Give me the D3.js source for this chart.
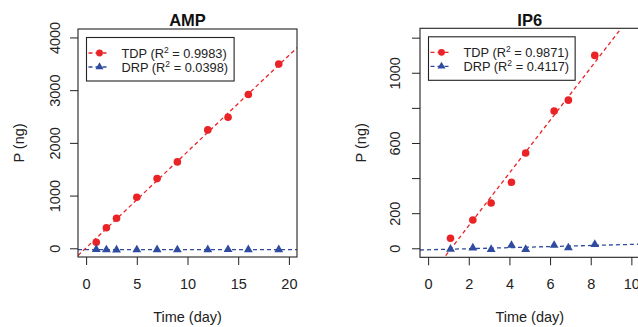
<!DOCTYPE html>
<html>
<head>
<meta charset="utf-8">
<script src="https://cdn.jsdelivr.net/npm/d3@7"></script>
<style>
  body { margin: 0; background: #fff; }
  svg { display: block; font-family: "Liberation Sans", Arial, sans-serif; }
  .tick line { stroke: #222; }
</style>
</head>
<body>
<div id="container"></div>
<script>
'use strict';

// values
const ampDays = [1, 2, 3, 5, 7, 9, 12, 14, 16, 19];
const ampTDP = [114, 391, 570, 968, 1322, 1639, 2246, 2487, 2917, 3494];
const ampDRP = [-22, -28, -30, -28, -26, -28, -26, -24, -26, -27];
const ampR2 = ["0.9983", "0.0398"];
const ampXTicks = [0, 5, 10, 15, 20];
const ampYTicks = [0, 1000, 2000, 3000, 4000];
const ampYLabels = [0, 1000, 2000, 3000, 4000];

const ip6Days = [1.1, 2.2, 3.1, 4.1, 4.8, 6.2, 6.9, 8.2];
const ip6TDP = [57, 161, 258, 376, 543, 782, 844, 1099];
const ip6DRP = [-5, 2, -6, 17, -6, 17, 3, 22];
const ip6R2 = ["0.9871", "0.4117"];
const ip6XTicks = [0, 2, 4, 6, 8, 10];
const ip6YTicks = [0, 200, 400, 600, 800, 1000, 1200];
const ip6YLabels = [0, 200, 600, 1000];

const seriesNames = ["TDP", "DRP"];

const width = 638, height = 327;
const red = "#ea2327", blue = "#2e4b9f";
const tickLen = 8;

const svg = d3.select("#container").append("svg")
  .attr("width", width)
  .attr("height", height);

// least squares, like R's lm() + abline()
function fit(xs, ys) {
  const mx = d3.mean(xs), my = d3.mean(ys);
  let sxy = 0, sxx = 0;
  xs.forEach((x, i) => { sxy += (x - mx) * (ys[i] - my); sxx += (x - mx) ** 2; });
  const b = sxy / sxx;
  return {a: my - b * mx, b: b};
}

// R pads the axis limits by 4%
function pad(lim) {
  const d = (lim[1] - lim[0]) * 0.04;
  return [lim[0] - d, lim[1] + d];
}

function panel(cfg) {
  const box = cfg.box;
  const xScale = d3.scaleLinear().domain(pad(cfg.xlim)).range([box.left, box.right]);
  const yScale = d3.scaleLinear().domain(pad(cfg.ylim)).range([box.bottom, box.top]);

  const g = svg.append("g");

  g.append("clipPath").attr("id", cfg.id + "-clip")
    .append("rect")
    .attr("x", box.left).attr("y", box.top)
    .attr("width", box.right - box.left).attr("height", box.bottom - box.top);

  // axes (ticks only, R style)
  const xAxis = d3.axisBottom(xScale).tickValues(cfg.xTicks).tickSize(tickLen).tickSizeOuter(0).tickFormat(d3.format("d"));
  const gx = g.append("g").attr("transform", `translate(0,${box.bottom})`).call(xAxis);
  gx.select(".domain").remove();
  gx.selectAll("text")
    .attr("y", 32).attr("dy", 0)
    .attr("font-size", 14.5).attr("fill", "#222")
    .attr("font-family", null);

  const yAxis = d3.axisLeft(yScale).tickValues(cfg.yTicks).tickSize(tickLen).tickSizeOuter(0)
    .tickFormat(d => cfg.yLabels.includes(d) ? String(d) : "");
  const gy = g.append("g").attr("transform", `translate(${box.left},0)`).call(yAxis);
  gy.select(".domain").remove();
  gy.selectAll("text")
    .attr("x", 0).attr("y", -cfg.yLabelGap).attr("dy", 0)
    .attr("text-anchor", "middle")
    .attr("transform", "rotate(-90)")
    .attr("font-size", 14.5).attr("fill", "#222")
    .attr("font-family", null);

  // regression lines
  const xd = xScale.domain();
  const lines = [fit(cfg.days, cfg.tdp), fit(cfg.days, cfg.drp)];
  g.append("g").attr("clip-path", `url(#${cfg.id}-clip)`)
    .selectAll("line.fit")
    .data(lines)
    .join("line")
    .attr("class", "fit")
    .attr("x1", xScale(xd[0])).attr("x2", xScale(xd[1]))
    .attr("y1", d => yScale(d.a + d.b * xd[0]))
    .attr("y2", d => yScale(d.a + d.b * xd[1]))
    .attr("stroke", (d, i) => i === 0 ? red : blue)
    .attr("stroke-width", 1.3)
    .attr("stroke-dasharray", "4,3");

  // points
  g.append("g").selectAll("circle")
    .data(cfg.days.map((d, i) => [d, cfg.tdp[i]]))
    .join("circle")
    .attr("cx", d => xScale(d[0]))
    .attr("cy", d => yScale(d[1]))
    .attr("r", 3.8)
    .attr("fill", red);

  const tri = d3.symbol().type(d3.symbolTriangle).size(34);
  g.append("g").selectAll("path")
    .data(cfg.days.map((d, i) => [d, cfg.drp[i]]))
    .join("path")
    .attr("d", tri)
    .attr("transform", d => `translate(${xScale(d[0])},${yScale(d[1])})`)
    .attr("fill", blue);

  // box
  g.append("rect")
    .attr("x", box.left).attr("y", box.top)
    .attr("width", box.right - box.left).attr("height", box.bottom - box.top)
    .attr("fill", "none").attr("stroke", "#222").attr("stroke-width", 1.1);

  // legend
  const lg = g.append("g").attr("transform", `translate(${box.left + 8.5},${box.top + 8.5})`);
  const lbox = lg.append("rect")
    .attr("x", 0).attr("y", 0)
    .attr("height", 43.5)
    .attr("fill", "#fff").attr("stroke", "#222").attr("stroke-width", 1.1);
  const rows = lg.selectAll("g.row")
    .data(seriesNames)
    .join("g")
    .attr("class", "row")
    .attr("transform", (d, i) => `translate(0,${15.5 + i * 14})`);
  rows.append("line")
    .attr("x1", 2).attr("x2", 21)
    .attr("stroke", (d, i) => i === 0 ? red : blue)
    .attr("stroke-width", 1.3)
    .attr("stroke-dasharray", "4,3");
  rows.filter((d, i) => i === 0).append("circle").attr("cx", 13).attr("r", 3.4).attr("fill", red);
  rows.filter((d, i) => i === 1).append("path")
    .attr("d", d3.symbol().type(d3.symbolTriangle).size(28))
    .attr("transform", "translate(13,0)")
    .attr("fill", blue);
  const texts = rows.append("text")
    .attr("x", 35).attr("y", 4.5)
    .attr("font-size", 12.8).attr("fill", "#222");
  texts.append("tspan").text(d => d + " (R");
  texts.append("tspan").attr("font-size", 8.5).attr("dy", -5).text("2");
  texts.append("tspan").attr("dy", 5).text((d, i) => " = " + cfg.r2[i] + ")");
  const maxLen = d3.max(texts.nodes(), n => n.getComputedTextLength());
  lbox.attr("width", 35 + maxLen + 6);

  // labels
  g.append("text")
    .attr("x", (box.left + box.right) / 2).attr("y", 26)
    .attr("text-anchor", "middle")
    .attr("font-size", 16.5).attr("font-weight", "bold").attr("fill", "#111")
    .text(cfg.title);

  g.append("text")
    .attr("x", (box.left + box.right) / 2).attr("y", 322)
    .attr("text-anchor", "middle")
    .attr("font-size", 14.5).attr("fill", "#222")
    .text("Time (day)");

  g.append("text")
    .attr("transform", `translate(${box.left - 54},${(box.top + box.bottom) / 2}) rotate(-90)`)
    .attr("text-anchor", "middle")
    .attr("font-size", 14.5).attr("fill", "#222")
    .text("P (ng)");
}

panel({
  id: "amp", title: "AMP",
  days: ampDays, tdp: ampTDP, drp: ampDRP, r2: ampR2,
  xlim: [0, 20], ylim: [-5, 4000],
  xTicks: ampXTicks, yTicks: ampYTicks, yLabels: ampYLabels,
  box: {left: 78, right: 297, top: 29, bottom: 257},
  yLabelGap: 18
});

panel({
  id: "ip6", title: "IP6",
  days: ip6Days, tdp: ip6TDP, drp: ip6DRP, r2: ip6R2,
  xlim: [0, 10], ylim: [-3, 1205],
  xTicks: ip6XTicks, yTicks: ip6YTicks, yLabels: ip6YLabels,
  box: {left: 420, right: 639.5, top: 28.3, bottom: 257.3},
  yLabelGap: 20
});
</script>
</body>
</html>
